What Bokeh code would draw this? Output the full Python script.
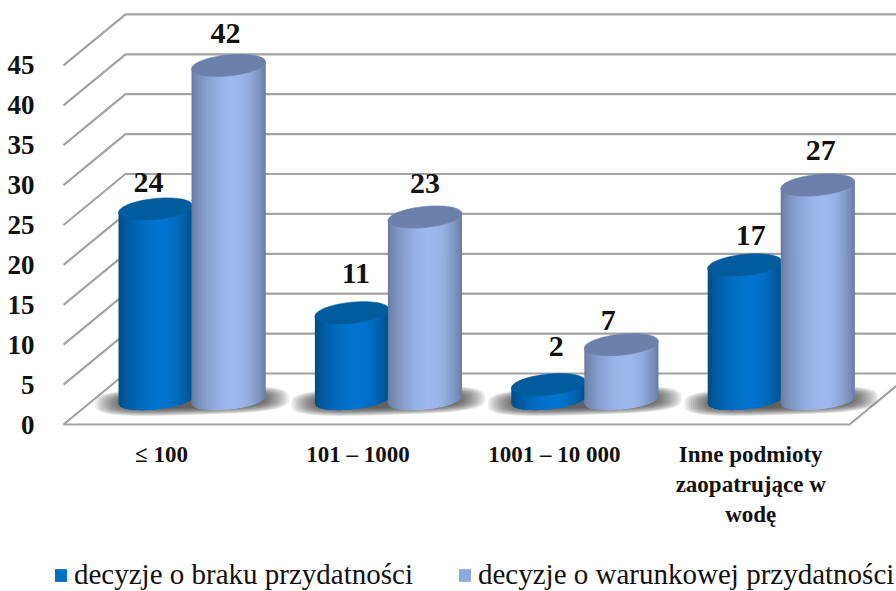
import math
from bokeh.plotting import figure
from bokeh.embed import file_html
from bokeh.resources import INLINE
from bokeh.core.properties import value
from bokeh.models import ColumnDataSource, FixedTicker, Legend, LegendItem

categories = ["≤ 100", "101 – 1000", "1001 – 10 000", "Inne podmioty\nzaopatrujące w\nwodę"]
braku = [24, 11, 2, 17]
warunkowej = [42, 23, 7, 27]
y_ticks = [0, 5, 10, 15, 20, 25, 30, 35, 40, 45]
series_names = ["decyzje o braku przydatności", "decyzje o warunkowej przydatności"]

FONT = "Liberation Serif"
PX_X = 196.4      # pixels per category
PX_Y = 7.98       # pixels per value unit
DEPTH_X = 62 / PX_X
DEPTH_Y = 51 / PX_Y
FRONT_RIGHT = (849 - 161) / PX_X
FRONT_LEFT = (63 - 161) / PX_X
BACK_RIGHT = (900 - 161) / PX_X
BASE = 24 / PX_Y  # cylinder base centre, above the front floor edge
HALF_W = 37 / PX_X
ELL_BOT = 9 / PX_Y
ELL_TOP = 10.5 / PX_Y
TILT = 3.5 / PX_Y
DARK_OFF = -6 / PX_X
LIGHT_OFF = 67 / PX_X

p = figure(width=896, height=591, output_backend="svg", toolbar_location=None,
           x_range=(-161 / PX_X, (896 - 161) / PX_X),
           y_range=((424 - 591) / PX_Y, 424 / PX_Y),
           min_border_left=0, min_border_right=0, min_border_top=0, min_border_bottom=0)
p.outline_line_color = None
p.grid.visible = False
p.background_fill_color = "white"

# axes sit inside the frame, so the legend below them stays inside it too
ya = p.yaxis[0]
ya.fixed_location = (60 - 161) / PX_X
ya.ticker = FixedTicker(ticks=y_ticks)
ya.axis_line_color = None
ya.major_tick_line_color = None
ya.minor_tick_line_color = None
ya.major_label_standoff = 20
ya.major_label_text_font = FONT
ya.major_label_text_font_style = "bold"
ya.major_label_text_font_size = "27px"
ya.major_label_text_color = "#111111"

xa = p.xaxis[0]
xa.fixed_location = -8 / PX_Y
xa.ticker = FixedTicker(ticks=list(range(len(categories))))
xa.major_label_overrides = {i: c for i, c in enumerate(categories)}
xa.axis_line_color = None
xa.major_tick_line_color = None
xa.minor_tick_line_color = None
xa.major_label_standoff = 3
xa.major_label_text_font = FONT
xa.major_label_text_font_style = "bold"
xa.major_label_text_font_size = "23px"
xa.major_label_text_color = "#111111"

# walls: grid lines running from the front edge to the back wall
GRID = "#a3a3a3"
for v in y_ticks:
    p.line([FRONT_LEFT, FRONT_LEFT + DEPTH_X, BACK_RIGHT],
           [v, v + DEPTH_Y, v + DEPTH_Y], line_color=GRID, line_width=2.2)
p.line([FRONT_LEFT, FRONT_RIGHT, FRONT_RIGHT + DEPTH_X],
       [0, 0, DEPTH_Y], line_color=GRID, line_width=2.2)


def lerp(a, b, t):
    return tuple(a[k] + (b[k] - a[k]) * t for k in range(3))


def hexc(c):
    return "#%02x%02x%02x" % tuple(int(round(max(0, min(255, k)))) for k in c)


def shade(edge, mid, u):
    # u in 0..1 across the cylinder, brightest slightly right of the centre
    peak = 0.58
    t = u / peak if u < peak else (1 - u) / (1 - peak)
    return hexc(lerp(edge, mid, math.sin(t * math.pi / 2) ** 0.8))


def cylinder(cx, val, edge, mid, top_col):
    n = 40
    xs, ys, cols = [], [], []
    bot = lambda d: BASE - ELL_BOT * math.sqrt(max(0, 1 - d * d)) + TILT * d
    tp = lambda d: BASE + val + TILT * d
    for i in range(n):
        # each strip reaches under its right neighbour so that no seams show
        d0 = -1 + 2 * i / n
        dm = -1 + 2 * (i + 1) / n
        d1 = min(1.0, dm + 2 / n)
        dd = [d0, dm, d1]
        xs.append([cx + d * HALF_W for d in dd] + [cx + d * HALF_W for d in reversed(dd)])
        ys.append([bot(d) for d in dd] + [tp(d) for d in reversed(dd)])
        cols.append(shade(edge, mid, (i + .5) / n))
    p.patches("xs", "ys", source=ColumnDataSource(dict(xs=xs, ys=ys, c=cols)),
              fill_color="c", line_color=None)
    ts = [2 * math.pi * k / 60 for k in range(60)]
    p.patch([cx + HALF_W * math.cos(t) for t in ts],
            [BASE + val + ELL_TOP * math.sin(t) + TILT * math.cos(t) for t in ts],
            fill_color=top_col, line_color=top_col, line_width=0.6)


def shadow(cx):
    # rounded, blurred pool: nested translucent shapes
    ts = [2 * math.pi * k / 72 for k in range(72)]
    sp = lambda c: math.copysign(abs(c) ** 0.6, c)
    for k in range(15):
        a = (97 - 2.2 * k) / PX_X
        b = (14 - 0.55 * k) / PX_Y
        p.patch([cx + a * sp(math.cos(t)) for t in ts],
                [BASE - 0.5 / PX_Y + b * sp(math.sin(t)) + 0.03 * a * sp(math.cos(t)) * PX_X / PX_Y for t in ts],
                fill_color="#2e2e2e", fill_alpha=0.085, line_color=None)


DARK = ((0, 76, 132), (0, 115, 206), "#005c9c")
LIGHT = ((104, 122, 160), (156, 183, 236), "#6b80aa")

# soft shadows on the floor, then cylinders
for i in range(len(categories)):
    shadow(i + (DARK_OFF + LIGHT_OFF) / 2)

for i in range(len(categories)):
    cylinder(i + DARK_OFF, braku[i], *DARK)
    cylinder(i + LIGHT_OFF, warunkowej[i], *LIGHT)

# value labels
lab_x, lab_y, lab_t, lab_dx, lab_dy = [], [], [], [], []
dark_shift = [(-7, 26), (4, 39), (8, 38), (6, 29)]
light_shift = [(-3, 32), (0, 33), (-13, 24), (3, 35)]
for i in range(len(categories)):
    lab_x += [i + DARK_OFF, i + LIGHT_OFF]
    lab_y += [BASE + braku[i], BASE + warunkowej[i]]
    lab_t += [str(braku[i]), str(warunkowej[i])]
    lab_dx += [dark_shift[i][0], light_shift[i][0]]
    lab_dy += [-dark_shift[i][1], -light_shift[i][1]]
p.text("x", "y", "t", source=ColumnDataSource(dict(x=lab_x, y=lab_y, t=lab_t, dx=lab_dx, dy=lab_dy)),
       x_offset="dx", y_offset="dy", text_align="center", text_baseline="middle",
       text_font=value(FONT), text_font_style="bold", text_font_size="30px", text_color="#111111")

# legend: its keys come from renderers that lie outside the visible range
off = [BACK_RIGHT + 50]
r1 = p.quad(left=off, right=off, top=[0], bottom=[0], fill_color="#0070c0", line_color=None)
r2 = p.quad(left=off, right=off, top=[0], bottom=[0], fill_color="#8eaadf", line_color=None)
leg = Legend(items=[LegendItem(label=series_names[0], renderers=[r1]),
                    LegendItem(label=series_names[1], renderers=[r2])],
             orientation="horizontal", location=(53, 0),
             label_text_font=FONT, label_text_font_size="29px", label_text_color="#111111",
             glyph_width=15, glyph_height=16, spacing=44, padding=0, margin=0,
             label_standoff=6, background_fill_alpha=0, border_line_color=None)
p.add_layout(leg, "center")

open("out.html", "w").write(file_html(p, INLINE))
